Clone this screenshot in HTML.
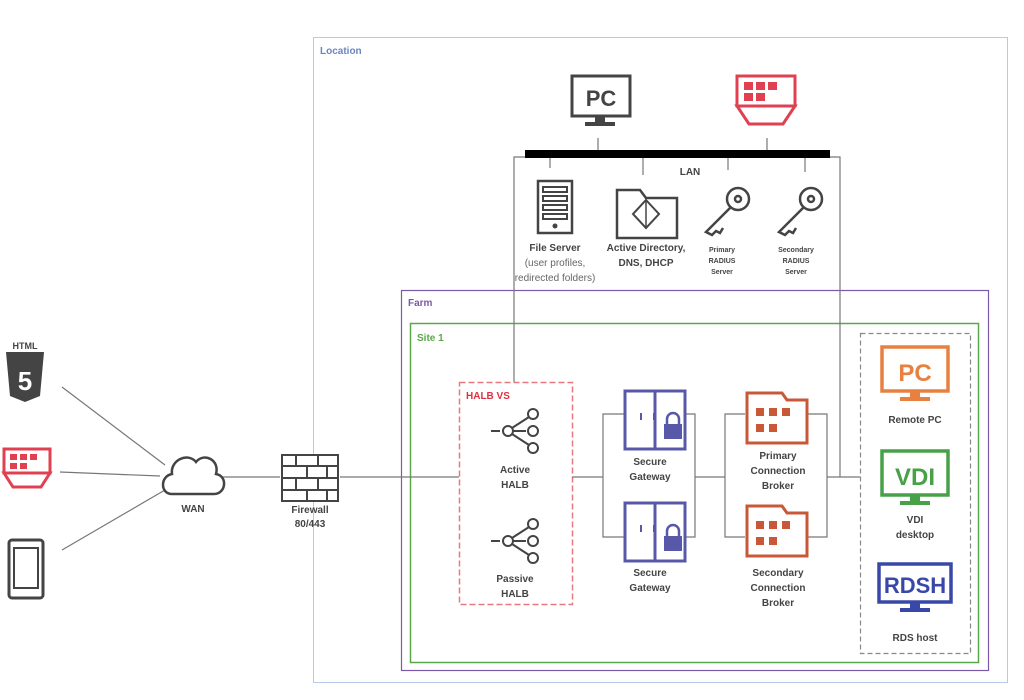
<!DOCTYPE html>
<html><head><meta charset="utf-8"><style>
html,body{margin:0;padding:0;background:#fff;}
svg{display:block;font-family:"Liberation Sans",sans-serif;}
text{font-weight:bold;fill:#444;text-anchor:middle;font-size:10px;}
</style></head><body>
<svg width="1024" height="700" viewBox="0 0 1024 700">
<!-- boxes -->
<rect x="313.5" y="37.5" width="694" height="645" fill="none" stroke="#b8c8e8" stroke-width="1"/>
<text x="320" y="54" style="text-anchor:start;fill:#6a86c0;font-size:10px">Location</text>
<rect x="401.5" y="290.5" width="587" height="380" fill="none" stroke="#7a5aa8" stroke-width="1.2"/>
<text x="408" y="306" style="text-anchor:start;fill:#7a5aa8">Farm</text>
<rect x="410.5" y="323.5" width="568" height="339" fill="none" stroke="#5aa84a" stroke-width="1.5"/>
<text x="417" y="341" style="text-anchor:start;fill:#5aa84a">Site 1</text>
<rect x="860.5" y="333.5" width="110" height="320" fill="none" stroke="#888" stroke-width="1.2" stroke-dasharray="5,3"/>
<rect x="459.5" y="382.5" width="113" height="222" fill="none" stroke="#e87880" stroke-width="1.5" stroke-dasharray="6,3"/>
<text x="466" y="399" style="text-anchor:start;fill:#e03040">HALB VS</text>

<!-- connectors -->
<g stroke="#777" stroke-width="1.2" fill="none">
<line x1="62" y1="387" x2="165" y2="465"/>
<line x1="60" y1="472" x2="160" y2="476"/>
<line x1="62" y1="550" x2="165" y2="490"/>
<line x1="222" y1="477" x2="280" y2="477"/>
<line x1="340" y1="477" x2="459" y2="477"/>
<line x1="572" y1="477" x2="603" y2="477"/>
<polyline points="624,414 603,414 603,537 624,537"/>
<polyline points="686,414 695,414 695,537 686,537"/>
<line x1="695" y1="477" x2="725" y2="477"/>
<polyline points="745,414 725,414 725,537 745,537"/>
<polyline points="808,414 827,414 827,537 808,537"/>
<line x1="827" y1="477" x2="860" y2="477"/>
<polyline points="525,157 514,157 514,382"/>
<polyline points="830,157 840,157 840,477"/>
<line x1="598" y1="138" x2="598" y2="150"/>
<line x1="767" y1="138" x2="767" y2="150"/>
<line x1="550" y1="158" x2="550" y2="168"/>
<line x1="643" y1="158" x2="643" y2="175"/>
<line x1="728" y1="158" x2="728" y2="170"/>
<line x1="805" y1="158" x2="805" y2="172"/>
</g>
<rect x="525" y="150" width="305" height="8" fill="#000"/>
<text x="690" y="175">LAN</text>

<!-- PC top -->
<rect x="572" y="76" width="58" height="40" fill="#fff" stroke="#444" stroke-width="3"/>
<text x="601" y="106" style="font-size:22px;fill:#444">PC</text>
<rect x="595" y="117" width="10" height="6" fill="#444"/><rect x="585" y="122" width="30" height="4" fill="#444"/>
<!-- thin client top -->
<g transform="translate(737,76)">
<rect x="0" y="0" width="58" height="30" fill="#fff" stroke="#e04050" stroke-width="3"/>
<rect x="7" y="6" width="9" height="8" fill="#e04050"/><rect x="19" y="6" width="9" height="8" fill="#e04050"/><rect x="31" y="6" width="9" height="8" fill="#e04050"/><rect x="7" y="17" width="9" height="8" fill="#e04050"/><rect x="19" y="17" width="9" height="8" fill="#e04050"/>
<polygon points="0,30 58,30 46,48 12,48" fill="#fff" stroke="#e04050" stroke-width="3"/>
</g>
<!-- file server -->
<rect x="538" y="181" width="34" height="52" fill="#fff" stroke="#444" stroke-width="2.5"/>
<g fill="none" stroke="#444" stroke-width="2"><rect x="543" y="187" width="24" height="5"/><rect x="543" y="196" width="24" height="5"/><rect x="543" y="205" width="24" height="5"/><rect x="543" y="214" width="24" height="5"/></g>
<circle cx="555" cy="226" r="2.5" fill="#444"/>
<text x="555" y="251">File Server</text>
<text x="555" y="266" style="font-weight:normal;fill:#666">(user profiles,</text>
<text x="555" y="281" style="font-weight:normal;fill:#666">redirected folders)</text>
<!-- AD -->
<path d="M617,190 L640,190 L646,198 L677,198 L677,238 L617,238 Z" fill="#fff" stroke="#444" stroke-width="2.5"/>
<polygon points="646,200 659,214 646,228 633,214" fill="none" stroke="#444" stroke-width="2"/>
<line x1="646" y1="200" x2="646" y2="228" stroke="#444" stroke-width="1.5"/>
<text x="646" y="251">Active Directory,</text>
<text x="646" y="266">DNS, DHCP</text>
<!-- keys -->
<g fill="none" stroke="#444" stroke-width="2.5">
<circle cx="738" cy="199" r="11"/><circle cx="738" cy="199" r="3"/>
<path d="M731,207 L706,232 L712,235 L716,231 L720,233 L723,228"/>
<circle cx="811" cy="199" r="11"/><circle cx="811" cy="199" r="3"/>
<path d="M804,207 L779,232 L785,235 L789,231 L793,233 L796,228"/>
</g>
<g style="font-size:7px">
<text x="722" y="252" style="font-size:7px">Primary</text><text x="722" y="263" style="font-size:7px">RADIUS</text><text x="722" y="274" style="font-size:7px">Server</text>
<text x="796" y="252" style="font-size:7px">Secondary</text><text x="796" y="263" style="font-size:7px">RADIUS</text><text x="796" y="274" style="font-size:7px">Server</text>
</g>

<!-- left icons -->
<path d="M6,352 L44,352 L40,396 L25,402 L10,396 Z" fill="#444"/>
<text x="25" y="349" style="font-size:9px;fill:#444">HTML</text>
<text x="25" y="390" style="font-size:26px;fill:#fff">5</text>
<g transform="translate(4,449)">
<rect x="0" y="0" width="46" height="24" fill="#fff" stroke="#e04050" stroke-width="3"/>
<rect x="6" y="5" width="7" height="6" fill="#e04050"/><rect x="16" y="5" width="7" height="6" fill="#e04050"/><rect x="26" y="5" width="7" height="6" fill="#e04050"/><rect x="6" y="14" width="7" height="6" fill="#e04050"/><rect x="16" y="14" width="7" height="6" fill="#e04050"/>
<polygon points="0,24 46,24 37,38 9,38" fill="#fff" stroke="#e04050" stroke-width="3"/>
</g>
<rect x="9" y="540" width="34" height="58" rx="3" fill="#fff" stroke="#444" stroke-width="3"/>
<rect x="14" y="548" width="24" height="40" fill="none" stroke="#444" stroke-width="2"/>
<!-- cloud -->
<path d="M172,494 C160,494 160,476 172,474 C170,460 188,452 196,462 C204,452 220,460 216,474 C228,476 226,494 214,494 Z" fill="#fff" stroke="#444" stroke-width="2.5"/>
<text x="193" y="512">WAN</text>
<!-- firewall -->
<g stroke="#444" stroke-width="2" fill="#fff">
<rect x="282" y="455" width="56" height="46"/>
<line x1="282" y1="466" x2="338" y2="466"/><line x1="282" y1="478" x2="338" y2="478"/><line x1="282" y1="490" x2="338" y2="490"/>
<line x1="296" y1="455" x2="296" y2="466"/><line x1="318" y1="455" x2="318" y2="466"/>
<line x1="307" y1="466" x2="307" y2="478"/><line x1="327" y1="466" x2="327" y2="478"/>
<line x1="296" y1="478" x2="296" y2="490"/><line x1="318" y1="478" x2="318" y2="490"/>
<line x1="307" y1="490" x2="307" y2="501"/><line x1="327" y1="490" x2="327" y2="501"/>
</g>
<text x="310" y="513">Firewall</text><text x="310" y="527">80/443</text>

<!-- HALB icons -->
<g id="halb" fill="none" stroke="#444" stroke-width="2">
<line x1="491" y1="431" x2="500" y2="431"/>
<circle cx="508" cy="431" r="5"/><circle cx="533" cy="414" r="5"/><circle cx="533" cy="431" r="5"/><circle cx="533" cy="448" r="5"/>
<line x1="512" y1="428" x2="529" y2="417"/><line x1="513" y1="431" x2="526" y2="431"/><line x1="512" y1="434" x2="529" y2="445"/>
</g>
<use href="#halb" transform="translate(0,110)"/>
<text x="515" y="473">Active</text><text x="515" y="488">HALB</text>
<text x="515" y="582">Passive</text><text x="515" y="597">HALB</text>

<!-- gateways -->
<g id="gw">
<rect x="625" y="391" width="60" height="58" fill="#fff" stroke="#5858a8" stroke-width="3"/>
<line x1="655" y1="391" x2="655" y2="449" stroke="#5858a8" stroke-width="3"/>
<line x1="641" y1="413" x2="641" y2="420" stroke="#5858a8" stroke-width="2"/><line x1="654" y1="413" x2="654" y2="420" stroke="#5858a8" stroke-width="2"/>
<path d="M667,425 L667,419 A6,6 0 0 1 679,419 L679,425" fill="none" stroke="#5858a8" stroke-width="2.5"/>
<rect x="664" y="424" width="18" height="15" fill="#5858a8"/>
</g>
<use href="#gw" transform="translate(0,112)"/>
<text x="650" y="465">Secure</text><text x="650" y="480">Gateway</text>
<text x="650" y="576">Secure</text><text x="650" y="591">Gateway</text>

<!-- brokers -->
<g id="br">
<path d="M747,393 L782,393 L787,400 L807,400 L807,443 L747,443 Z" fill="#fff" stroke="#c85838" stroke-width="3"/>
<g fill="#c85838"><rect x="756" y="408" width="8" height="8"/><rect x="769" y="408" width="8" height="8"/><rect x="782" y="408" width="8" height="8"/><rect x="756" y="424" width="8" height="8"/><rect x="769" y="424" width="8" height="8"/></g>
</g>
<use href="#br" transform="translate(0,113)"/>
<text x="778" y="459">Primary</text><text x="778" y="474">Connection</text><text x="778" y="489">Broker</text>
<text x="778" y="576">Secondary</text><text x="778" y="591">Connection</text><text x="778" y="606">Broker</text>

<!-- right desktops -->
<rect x="882" y="347" width="66" height="44" fill="#fff" stroke="#e88040" stroke-width="3.5"/>
<text x="915" y="381" style="font-size:24px;fill:#e88040">PC</text>
<rect x="910" y="392" width="10" height="6" fill="#e88040"/><rect x="900" y="397" width="30" height="4" fill="#e88040"/>
<text x="915" y="423">Remote PC</text>
<rect x="882" y="451" width="66" height="44" fill="#fff" stroke="#48a048" stroke-width="3.5"/>
<text x="915" y="485" style="font-size:24px;fill:#48a048">VDI</text>
<rect x="910" y="496" width="10" height="6" fill="#48a048"/><rect x="900" y="501" width="30" height="4" fill="#48a048"/>
<text x="915" y="523">VDI</text><text x="915" y="538">desktop</text>
<rect x="879" y="564" width="72" height="38" fill="#fff" stroke="#3848a8" stroke-width="3.5"/>
<text x="915" y="593" style="font-size:22px;fill:#3848a8">RDSH</text>
<rect x="910" y="603" width="10" height="6" fill="#3848a8"/><rect x="900" y="608" width="30" height="4" fill="#3848a8"/>
<text x="915" y="641">RDS host</text>
</svg>
</body></html>
